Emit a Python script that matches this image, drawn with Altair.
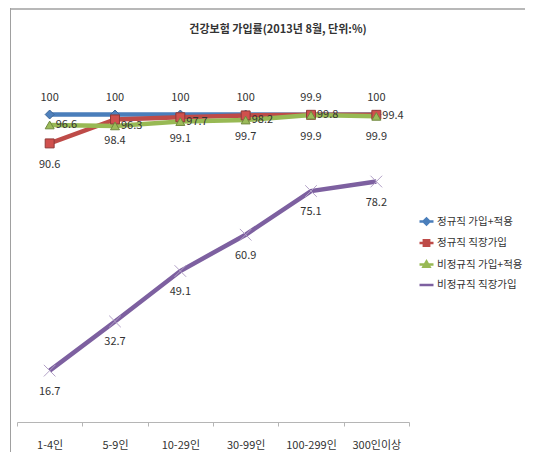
import altair as alt
import pandas as pd

categories = ["1-4인", "5-9인", "10-29인", "30-99인", "100-299인", "300인이상"]
series_names = ["정규직 가입+적용", "정규직 직장가입", "비정규직 가입+적용", "비정규직 직장가입"]
marker_keys = ["m1", "m2", "m3", "m4"]
reg_join = [100, 100, 100, 100, 99.9, 100]
reg_work = [90.6, 98.4, 99.1, 99.7, 99.9, 99.9]
irr_join = [96.6, 96.3, 97.7, 98.2, 99.8, 99.4]
irr_work = [16.7, 32.7, 49.1, 60.9, 75.1, 78.2]

line_colors = ["#4A7EBB", "#BE4B48", "#98B954", "#7D60A0"]
fill_colors = ["#4F81BD", "#D0504D", "#9BBB59", "#B3A2C7"]
edge_colors = ["#3C6696", "#8E3A38", "#71893F", "#B3A2C7"]
marker_shapes = ["diamond", "square", "triangle-up", "M-1.3,-1.3L1.3,1.3M-1.3,1.3L1.3,-1.3"]
legend_paths = [
    "M-1,0L1,0M-0.42,0L0,-0.42L0.42,0L0,0.42Z",
    "M-1,0L1,0M-0.38,-0.38L0.38,-0.38L0.38,0.38L-0.38,0.38Z",
    "M-1,0L1,0M-0.42,0.32L0,-0.42L0.42,0.32Z",
    "M-1,0L1,0",
]
label_offsets = {  # (dx, dy, align)
    series_names[0]: (0, -17, "center"),
    series_names[1]: (0, 22, "center"),
    series_names[2]: (6, 0, "left"),
    series_names[3]: (0, 21, "center"),
}

FONT = "Noto Sans CJK KR"

rows = []
for name, key, vals in zip(series_names, marker_keys, [reg_join, reg_work, irr_join, irr_work]):
    for c, v in zip(categories, vals):
        rows.append({"category": c, "series": name, "marker": key, "value": v, "label": f"{v:g}"})
df = pd.DataFrame(rows)

shape_expr = ""
for name, p in zip(series_names[:-1], legend_paths[:-1]):
    shape_expr += f"datum.value === '{name}' ? '{p}' : "
shape_expr += f"'{legend_paths[-1]}'"

x_enc = alt.X(
    "category:N",
    sort=categories,
    scale=alt.Scale(paddingInner=0, paddingOuter=0),
    axis=alt.Axis(
        title=None, labelAngle=0, tickBand="extent", domainColor="#b5b5b5",
        tickColor="#b5b5b5", tickSize=4, labelPadding=13, labelFont=FONT,
        labelFontSize=11, labelColor="#333333", grid=False,
    ),
)
y_enc = alt.Y("value:Q", scale=alt.Scale(domain=[0, 120]), axis=None)

base = alt.Chart(df)

lines = base.mark_line(strokeWidth=4.5).encode(
    x=x_enc,
    y=y_enc,
    color=alt.Color(
        "series:N",
        scale=alt.Scale(domain=series_names, range=line_colors),
        legend=alt.Legend(
            title=None, orient="none", legendX=401, legendY=160,
            labelFont=FONT, labelFontSize=10.5, labelColor="#333333",
            symbolSize=196, rowPadding=4.5, labelOffset=2,
            symbolType={"expr": shape_expr},
            symbolFillColor={"expr": "scale('color', datum.value)"},
            symbolStrokeWidth=2.5,
        ),
    ),
    detail="series:N",
)

points = base.mark_point(filled=True, size=80, strokeWidth=1, opacity=1).encode(
    x=x_enc,
    y=y_enc,
    fill=alt.Fill("marker:N", scale=alt.Scale(domain=marker_keys, range=fill_colors), legend=None),
    stroke=alt.Stroke("marker:N", scale=alt.Scale(domain=marker_keys, range=edge_colors), legend=None),
    shape=alt.Shape("marker:N", scale=alt.Scale(domain=marker_keys, range=marker_shapes), legend=None),
)

texts = []
for name in series_names:
    dx, dy, align = label_offsets[name]
    texts.append(
        base.transform_filter(alt.datum.series == name)
        .mark_text(font=FONT, fontSize=11, color="#333333", dx=dx, dy=dy, align=align, baseline="middle")
        .encode(x=x_enc, y=y_enc, text="label:N")
    )

frame_df = pd.DataFrame({"k": [0]})
frame_left = alt.Chart(frame_df).mark_rule(color="#a0a0a0", strokeWidth=1).encode(
    x=alt.value(-6.5), y=alt.value(-45), y2=alt.value(399)
)
frame_top = alt.Chart(frame_df).mark_rule(color="#a0a0a0", strokeWidth=1.5).encode(
    x=alt.value(-7), x2=alt.value(508), y=alt.value(-44)
)

chart = alt.layer(frame_left, frame_top, lines, points, *texts).properties(
    width=392,
    height=369,
    autosize=alt.AutoSizeParams(type="none"),
    padding={"left": 9, "top": 45, "right": 116, "bottom": 30},
    title=alt.TitleParams(
        text="건강보험 가입률(2013년 8월, 단위:%)", font=FONT, fontSize=11,
        fontWeight="bold", color="#333333", anchor="middle", dx=65, offset=-27,
    ),
).configure_view(stroke=None)

chart.save("out.html", embed_options={"renderer": "svg", "actions": False})
